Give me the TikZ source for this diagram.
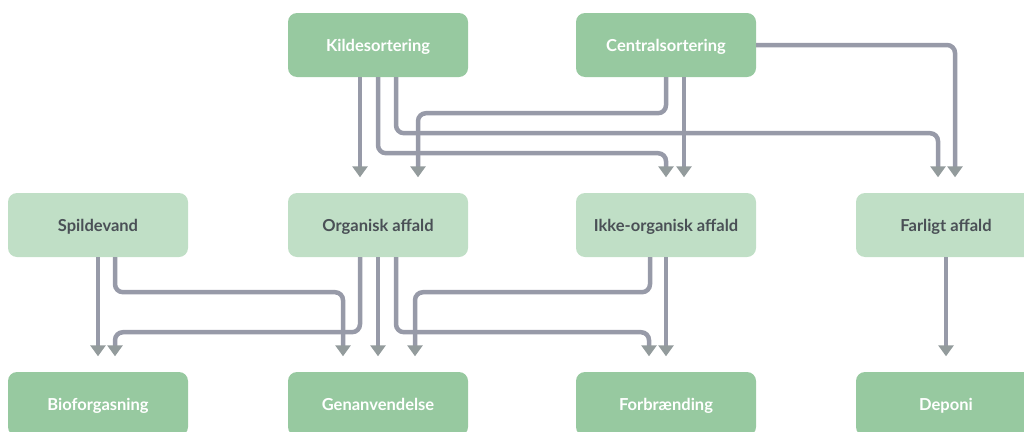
\documentclass[tikz,border=0pt]{standalone}
\usepackage{fontspec}
\setmainfont{Lato}
\usetikzlibrary{arrows.meta,positioning}
\definecolor{sortgreen}{HTML}{97C9A0}
\definecolor{wastegreen}{HTML}{C0DFC6}
\definecolor{flowgray}{HTML}{979AA8}
\definecolor{tipgray}{HTML}{939B9C}
\definecolor{labelgray}{HTML}{4A5056}

\begin{document}
\begin{tikzpicture}[x=1pt,y=-1pt,
  box/.style={rounded corners=9pt, minimum width=180pt, minimum height=64pt,
    inner sep=0pt, text height=12.5pt, text depth=0pt,
    font=\bfseries\fontsize{16.5}{18}\selectfont},
  darkbox/.style={box, fill=sortgreen, text=white},
  lightbox/.style={box, fill=wastegreen, text=labelgray},
  flow/.style={draw=flowgray, line width=4.5pt, rounded corners=8pt, shorten >=15.5pt,
    -{Triangle[width=15pt,length=11pt,color=tipgray]}}]
\useasboundingbox (0,0) rectangle (1024,431);
% sorting
\node[darkbox] (kilde) at (378,45) {Kildesortering};
\node[darkbox] (central) at (666,45) {Centralsortering};
% waste types
\node[lightbox] (spild) at (98,225) {Spildevand};
\node[lightbox] (organisk) at (378,225) {Organisk affald};
\node[lightbox] (ikke) at (666,225) {Ikke-organisk affald};
\node[lightbox] (farligt) at (946,225) {Farligt affald};
% treatment
\node[darkbox] (biogas) at (98,404) {Bioforgasning};
\node[darkbox] (genbrug) at (378,404) {Genanvendelse};
\node[darkbox] (forbr) at (666,404) {Forbrænding};
\node[darkbox] (deponi) at (946,404) {Deponi};
% from sorting
\draw[flow] ([xshift=-18pt]kilde.south) -- ([xshift=-18pt]organisk.north);
\draw[flow] (kilde.south) -- ++(0,76) -| (ikke.north);
\draw[flow] ([xshift=18pt]kilde.south) -- ++(0,56) -| ([xshift=-8pt]farligt.north);
\draw[flow] (central.south) -- ++(0,36) -| ([xshift=40pt]organisk.north);
\draw[flow] ([xshift=18pt]central.south) -- ([xshift=18pt]ikke.north);
\draw[flow] (central.east) -| ([xshift=9pt]farligt.north);
% to treatment
\draw[flow] (spild.south) -- (biogas.north);
\draw[flow] ([xshift=17pt]spild.south) -- ++(0,35) -| ([xshift=-35pt]genbrug.north);
\draw[flow] ([xshift=-18pt]organisk.south) -- ++(0,75) -| ([xshift=17pt]biogas.north);
\draw[flow] (organisk.south) -- (genbrug.north);
\draw[flow] ([xshift=18pt]organisk.south) -- ++(0,75) -| ([xshift=-17pt]forbr.north);
\draw[flow] ([xshift=-16pt]ikke.south) -- ++(0,35) -| ([xshift=37pt]genbrug.north);
\draw[flow] (ikke.south) -- (forbr.north);
\draw[flow] (farligt.south) -- (deponi.north);
\end{tikzpicture}
\end{document}
